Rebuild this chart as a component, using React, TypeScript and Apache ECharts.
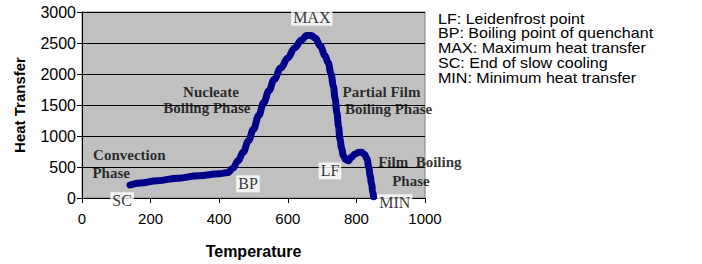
import React, { useEffect, useRef } from "react";
import * as echarts from "echarts";

// Cooling curve: temperature vs heat transfer
const temperatures = [
  140, 170, 220, 280, 340, 400, 425, 440, 455, 470, 485, 500, 515, 530, 545, 560,
  580, 600, 620, 640, 655, 668, 680, 695, 708, 718, 726, 733, 738, 743, 748, 752,
  757, 762, 769, 776, 786, 796, 806, 816, 824, 831, 836, 840, 844, 848, 850,
];
const heatTransfer = [
  210, 240, 280, 320, 360, 390, 410, 480, 600, 740, 920, 1110, 1330, 1540, 1730, 1910,
  2100, 2260, 2420, 2550, 2620, 2620, 2580, 2450, 2300, 2180, 2000, 1800, 1600, 1380, 1150, 950,
  800, 680, 620, 600, 660, 710, 735, 737, 700, 630, 500, 362, 230, 96, 20,
];

// Point annotations (white boxes)
const pointLabelTexts = ["MAX", "BP", "LF", "SC", "MIN"];
const pointLabelTemps = [670, 484, 723, 117, 912];
const pointLabelHeats = [2915, 229, 437, -43, -75];

// Phase annotations
const phaseLabelTexts = [
  "Convection", "Phase", "Nucleate", "Boiling Phase",
  "Partial Film", "Boiling Phase", "Film  Boiling", "Phase",
];
const phaseLabelTemps = [138, 85, 376, 364, 873, 894, 985, 959];
const phaseLabelHeats = [690, 405, 1716, 1459, 1716, 1428, 580, 277];

// Key text on the right
const keyLines = [
  "LF: Leidenfrost point",
  "BP: Boiling point of quenchant",
  "MAX: Maximum heat transfer",
  "SC: End of slow cooling",
  "MIN: Minimum heat transfer",
];

const xAxisName = "Temperature";
const yAxisName = "Heat Transfer";

export default function App() {
  const ref = useRef<HTMLDivElement>(null);

  useEffect(() => {
    if (!ref.current) return;
    const chart = echarts.init(ref.current, undefined, { renderer: "svg" });
    const sans = "'Liberation Sans', Arial, sans-serif";
    const serif = "'Liberation Serif', 'Times New Roman', serif";

    chart.setOption({
      animation: false,
      backgroundColor: "#ffffff",
      grid: {
        left: 82,
        right: 277,
        top: 12,
        bottom: 65,
        show: true,
        backgroundColor: "#c0c0c0",
        borderColor: "#808080",
        borderWidth: 1,
      },
      xAxis: {
        type: "value",
        min: 0,
        max: 1000,
        interval: 200,
        name: xAxisName,
        nameLocation: "middle",
        nameGap: 45,
        nameTextStyle: { fontFamily: sans, fontSize: 16, fontWeight: "bold", color: "#000" },
        axisLine: { show: true, onZero: false, lineStyle: { color: "#000", width: 1 } },
        axisTick: { show: true, inside: false, length: 5, lineStyle: { color: "#000" } },
        axisLabel: {
          fontFamily: sans, fontSize: 15, color: "#000", margin: 13,
          formatter: (v: number) => String(v),
        },
        splitLine: { show: false },
      },
      yAxis: {
        type: "value",
        min: 0,
        max: 3000,
        interval: 500,
        name: yAxisName,
        nameLocation: "middle",
        nameGap: 55,
        nameTextStyle: { fontFamily: sans, fontSize: 15, fontWeight: "bold", color: "#000" },
        axisLine: { show: true, onZero: false, lineStyle: { color: "#000", width: 1 } },
        axisTick: { show: true, inside: false, length: 5, lineStyle: { color: "#000" } },
        axisLabel: {
          fontFamily: sans, fontSize: 16, color: "#000", margin: 6,
          formatter: (v: number) => String(v),
        },
        splitLine: { show: true, lineStyle: { color: "#000", width: 1 } },
      },
      graphic: keyLines.map((line, i) => ({
        type: "text",
        x: 438,
        y: 18.3 + i * 14.75,
        scaleX: 1.09,
        style: {
          text: line,
          fontFamily: sans,
          fontSize: 14.75,
          lineHeight: 14.75,
          fill: "#000",
          verticalAlign: "middle",
          align: "left",
        },
      })),
      series: [
        {
          type: "line",
          data: temperatures.map((t, i) => [t, heatTransfer[i]]),
          showSymbol: false,
          symbol: "none",
          smooth: 0.4,
          smoothMonotone: "x",
          lineStyle: { color: "#000088", width: 7, cap: "round", join: "round" },
          z: 3,
        },
        {
          type: "scatter",
          clip: false,
          silent: true,
          symbolSize: 1,
          itemStyle: { color: "rgba(0,0,0,0)" },
          data: pointLabelTexts.map((s, i) => ({ value: [pointLabelTemps[i], pointLabelHeats[i]], name: s })),
          label: {
            show: true,
            position: "inside",
            formatter: (p: any) => p.name,
            fontFamily: serif,
            fontSize: 16,
            color: "#000",
            textBorderWidth: 0,
            backgroundColor: "#ffffff",
            padding: [1, 2, 0, 2],
          },
          z: 5,
        },
        {
          type: "scatter",
          clip: false,
          silent: true,
          symbolSize: 1,
          itemStyle: { color: "rgba(0,0,0,0)" },
          data: phaseLabelTexts.map((s, i) => ({ value: [phaseLabelTemps[i], phaseLabelHeats[i]], name: s })),
          label: {
            show: true,
            position: "inside",
            formatter: (p: any) => p.name,
            fontFamily: serif,
            fontSize: 15,
            fontWeight: "bold",
            color: "#000",
            textBorderWidth: 0,
          },
          z: 5,
        },
      ],
    });

    return () => chart.dispose();
  }, []);

  return (
    <div
      ref={ref}
      style={{ position: "fixed", left: 0, top: 0, width: 702, height: 264, background: "#fff" }}
    />
  );
}
